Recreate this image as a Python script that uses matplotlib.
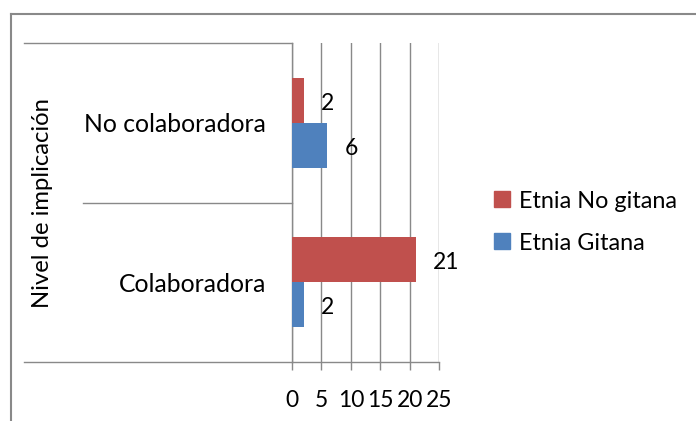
import matplotlib
matplotlib.use("Agg")
import matplotlib.pyplot as plt
import numpy as np
from matplotlib.lines import Line2D
from matplotlib.patches import Patch
from matplotlib.transforms import blended_transform_factory

categories = ["Colaboradora", "No colaboradora"]
no_gitana = [21, 2]
gitana = [2, 6]
series_names = ["Etnia No gitana", "Etnia Gitana"]
axis_title = "Nivel de implicación"
x_ticks = [0, 5, 10, 15, 20, 25]

RED = "#C0504D"
BLUE = "#4F81BD"
GREY = "#898989"

plt.rcParams["font.family"] = ["Lato", "DejaVu Sans"]
plt.rcParams["font.size"] = 16.5

W, H = 696, 421
fig = plt.figure(figsize=(W / 100, H / 100), dpi=100)

# plot area in pixel units
px0, px1, py0, py1 = 292, 439.3, 43.3, 362
ax = fig.add_axes([px0 / W, 1 - py1 / H, (px1 - px0) / W, (py1 - py0) / H])

y = np.arange(len(categories))
h = 0.2825
ax.barh(y + h / 2, no_gitana, h, color=RED, zorder=3)
ax.barh(y - h / 2, gitana, h, color=BLUE, zorder=3)

for vals, off in ((no_gitana, h / 2), (gitana, -h / 2)):
    for yi, v in zip(y, vals):
        ax.annotate(str(v), (v, yi + off), xytext=(12.5, -2),
                    textcoords="offset points", ha="left", va="center")

ax.set_xlim(x_ticks[0], x_ticks[-1])
ax.set_ylim(-0.5, len(categories) - 0.5)
ax.set_xticks(x_ticks)
ax.set_yticks(y)
ax.set_yticklabels(categories, fontsize=17.8)
ax.tick_params(axis="y", length=0, pad=18.5)
ax.tick_params(axis="x", length=6, width=1, color=GREY, pad=14)
ax.grid(axis="x", color=GREY, lw=1.0, zorder=0)
for s in ("top", "right"):
    ax.spines[s].set_visible(False)
for s in ("left", "bottom"):
    ax.spines[s].set_color(GREY)
    ax.spines[s].set_linewidth(1.0)

# multi-level category axis dividers
tr = blended_transform_factory(fig.transFigure, ax.transData)
bounds = np.arange(len(categories) + 1) - 0.5
for i, b in enumerate(bounds):
    x_start = 24 / W if i in (0, len(bounds) - 1) else 83 / W
    ax.add_line(Line2D([x_start, px0 / W], [b, b], transform=tr, color=GREY,
                       lw=1.0, clip_on=False))

fig.text(43 / W, 1 - (py0 + py1) / 2 / H, axis_title, rotation=90,
         ha="center", va="center", fontsize=17.2)

handles = [Patch(color=RED), Patch(color=BLUE)]
fig.legend(handles, series_names, loc="center left",
           bbox_to_anchor=(494 / W, 1 - 222 / H), frameon=False, fontsize=16.8,
           handlelength=0.68, handleheight=0.68, handletextpad=0.4,
           labelspacing=0.9, borderaxespad=0, borderpad=0)

# chart border (right and bottom edges fall outside the image)
fig.add_artist(Line2D([11 / W, 11 / W], [0, 1 - 14 / H], color=GREY, lw=1.5))
fig.add_artist(Line2D([11 / W, 1], [1 - 14 / H, 1 - 14 / H], color=GREY, lw=1.5))

fig.savefig("out.png", dpi=100)
